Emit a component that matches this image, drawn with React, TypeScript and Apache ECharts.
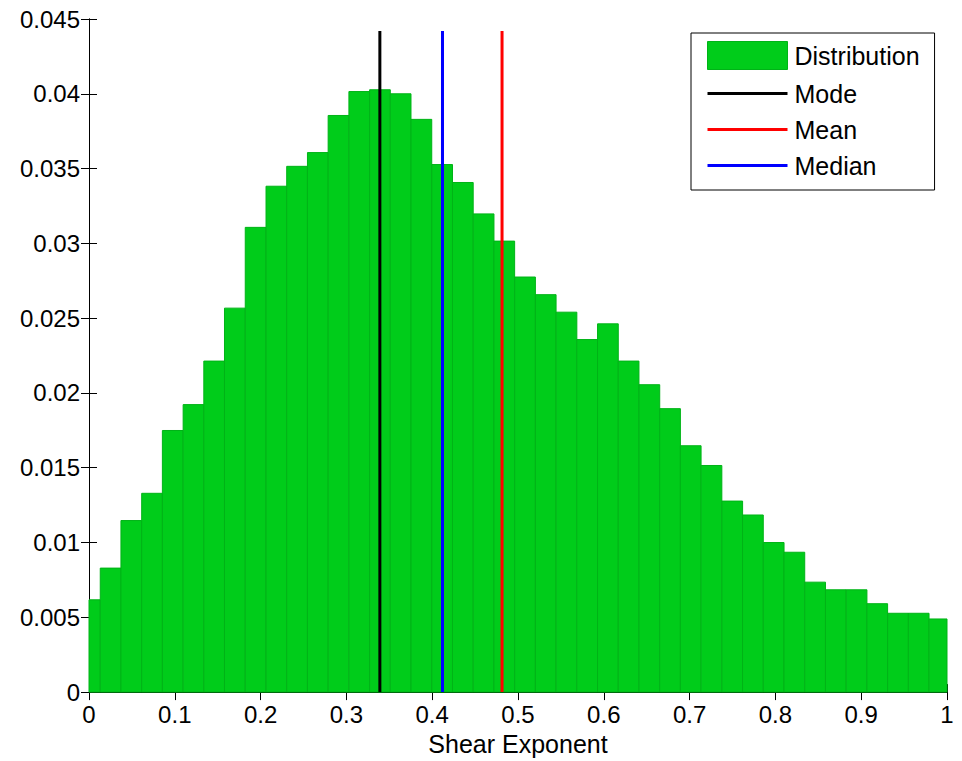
import React, { useEffect, useRef } from "react";
import * as echarts from "echarts";

// Histogram bin centres (x) and normalised frequency (y)
const BIN_CENTERS = [
  0.001, 0.0252, 0.0493, 0.0735, 0.0976, 0.1218, 0.1459, 0.17, 0.1942, 0.2184,
  0.2425, 0.2667, 0.2908, 0.315, 0.3391, 0.3632, 0.3874, 0.4116, 0.4357, 0.4599,
  0.484, 0.5082, 0.5323, 0.5565, 0.5806, 0.6048, 0.6289, 0.6531, 0.6772, 0.7013,
  0.7255, 0.7497, 0.7738, 0.798, 0.8221, 0.8463, 0.8704, 0.8946, 0.9187, 0.9429,
  0.967, 0.9912,
];
const DENSITY = [
  0.00617, 0.00829, 0.01147, 0.01329, 0.01749, 0.01922, 0.02213, 0.02567, 0.03107, 0.03382,
  0.03515, 0.03607, 0.03855, 0.04015, 0.04027, 0.04, 0.03829, 0.03527, 0.03407, 0.03197,
  0.03015, 0.02775, 0.02657, 0.0254, 0.02357, 0.02462, 0.02213, 0.02055, 0.01895, 0.01647,
  0.01515, 0.01277, 0.01184, 0.01, 0.00935, 0.00735, 0.00684, 0.00684, 0.00591, 0.00527,
  0.00527, 0.00489,
];
const BIN_WIDTH = 0.02415;

const MODE = 0.339;
const MEAN = 0.4814;
const MEDIAN = 0.412;
const LINE_TOP = 0.0442;

const LEGEND_NAMES = ["Distribution", "Mode", "Mean", "Median"];

const FONT = "'Liberation Sans', Arial, Helvetica, sans-serif";
const BAR_FILL = "#00cc1a";
const BAR_EDGE = "#00b317";
const LINE_ICON = "path://M0,0H80V3H0Z";

export default function App() {
  const ref = useRef<HTMLDivElement>(null);

  useEffect(() => {
    if (!ref.current) return;
    const chart = echarts.init(ref.current, undefined, { renderer: "svg" });

    const histData = BIN_CENTERS.map((c, i) => [c, DENSITY[i]]);
    const vline = (x: number) => [
      [x, 0],
      [x, LINE_TOP],
    ];

    const axisLabelStyle = { color: "#000", fontSize: 24, fontFamily: FONT };
    const axisLine = { show: true, lineStyle: { color: "#000", width: 1 } };
    const tick = { show: true, inside: true, length: 8, lineStyle: { color: "#000" } };

    chart.setOption({
      animation: false,
      backgroundColor: "#fff",
      grid: { left: 89, right: 15, top: 19, bottom: 67 },
      xAxis: [
        {
          type: "value",
          min: 0,
          max: 1,
          interval: 0.1,
          position: "bottom",
          name: "Shear Exponent",
          nameLocation: "middle",
          nameGap: 26,
          nameTextStyle: { color: "#000", fontSize: 25, fontFamily: FONT },
          axisLine,
          axisTick: tick,
          axisLabel: { ...axisLabelStyle, margin: 10 },
          splitLine: { show: false },
        },
        {
          type: "value",
          min: 0,
          max: 1,
          interval: 0.1,
          position: "top",
          axisLine,
          axisTick: tick,
          axisLabel: { show: false },
          splitLine: { show: false },
        },
      ],
      yAxis: [
        {
          type: "value",
          min: 0,
          max: 0.045,
          interval: 0.005,
          position: "left",
          axisLine,
          axisTick: tick,
          axisLabel: { ...axisLabelStyle, margin: 9 },
          splitLine: { show: false },
        },
        {
          type: "value",
          min: 0,
          max: 0.045,
          interval: 0.005,
          position: "right",
          axisLine,
          axisTick: tick,
          axisLabel: { show: false },
          splitLine: { show: false },
        },
      ],
      legend: {
        data: [
          { name: "Distribution", icon: "rect", itemStyle: { borderColor: BAR_EDGE, borderWidth: 1 } },
          { name: "Mode", icon: LINE_ICON, itemStyle: { color: "#000", borderWidth: 0 } },
          { name: "Mean", icon: LINE_ICON, itemStyle: { color: "#ff0000", borderWidth: 0 } },
          { name: "Median", icon: LINE_ICON, itemStyle: { color: "#0000ff", borderWidth: 0 } },
        ],
        orient: "vertical",
        left: 691,
        top: 33,
        backgroundColor: "#fff",
        borderColor: "#000",
        borderWidth: 1,
        borderRadius: 0,
        padding: [8, 15, 12, 16],
        itemWidth: 80,
        itemHeight: 28,
        itemGap: 11,
        symbolKeepAspect: true,
        selectedMode: false,
        textStyle: { color: "#000", fontSize: 25, fontFamily: FONT, padding: [0, 0, 0, 2] },
      },
      series: [
        {
          name: LEGEND_NAMES[0],
          type: "custom",
          xAxisIndex: 0,
          yAxisIndex: 0,
          itemStyle: { color: BAR_FILL },
          data: histData,
          encode: { x: 0, y: 1 },
          renderItem: (params: any, api: any) => {
            const c = api.value(0);
            const h = api.value(1);
            const p0 = api.coord([c - BIN_WIDTH / 2, h]);
            const p1 = api.coord([c + BIN_WIDTH / 2, 0]);
            const cs = params.coordSys;
            const shape = echarts.graphic.clipRectByRect(
              { x: p0[0], y: p0[1], width: p1[0] - p0[0], height: p1[1] - p0[1] },
              { x: cs.x, y: cs.y, width: cs.width, height: cs.height }
            );
            if (!shape) return null;
            return {
              type: "rect",
              shape,
              style: { fill: BAR_FILL, stroke: BAR_EDGE, lineWidth: 1 },
            };
          },
        },
        {
          name: LEGEND_NAMES[1],
          type: "line",
          data: vline(MODE),
          symbol: "none",
          lineStyle: { color: "#000", width: 3 },
          itemStyle: { color: "#000" },
          z: 5,
        },
        {
          name: LEGEND_NAMES[3],
          type: "line",
          data: vline(MEDIAN),
          symbol: "none",
          lineStyle: { color: "#0000ff", width: 3 },
          itemStyle: { color: "#0000ff" },
          z: 5,
        },
        {
          name: LEGEND_NAMES[2],
          type: "line",
          data: vline(MEAN),
          symbol: "none",
          lineStyle: { color: "#ff0000", width: 3 },
          itemStyle: { color: "#ff0000" },
          z: 5,
        },
      ],
    });

    return () => chart.dispose();
  }, []);

  return (
    <div
      ref={ref}
      style={{ position: "fixed", left: 0, top: 0, width: 962, height: 761, background: "#fff" }}
    />
  );
}
